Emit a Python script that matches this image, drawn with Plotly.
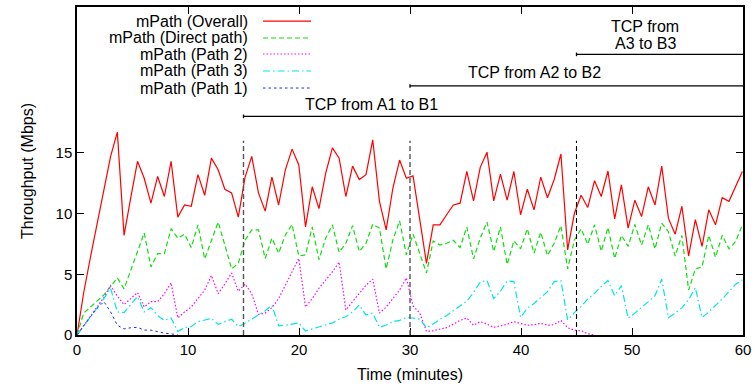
import plotly.graph_objects as go

# ---------------- data ----------------
time_min = [0.0, 0.606, 1.211, 1.817, 2.422, 3.028, 3.633, 4.239, 4.844, 5.450,
            6.055, 6.661, 7.266, 7.872, 8.477, 9.083, 9.688, 10.294, 10.899, 11.505,
            12.110, 12.716, 13.321, 13.927, 14.532, 15.138, 15.743, 16.349, 16.954, 17.560,
            18.165, 18.771, 19.376, 19.982, 20.587, 21.193, 21.798, 22.404, 23.009, 23.615,
            24.220, 24.826, 25.431, 26.037, 26.642, 27.248, 27.853, 28.459, 29.064, 29.670,
            30.275, 30.881, 31.486, 32.092, 32.697, 33.303, 33.908, 34.514, 35.119, 35.725,
            36.330, 36.936, 37.541, 38.147, 38.752, 39.358, 39.963, 40.569, 41.174, 41.780,
            42.385, 42.991, 43.596, 44.202, 44.807, 45.413, 46.018, 46.624, 47.229, 47.835,
            48.440, 49.046, 49.651, 50.257, 50.862, 51.468, 52.073, 52.679, 53.284, 53.890,
            54.495, 55.101, 55.706, 56.312, 56.917, 57.523, 58.128, 58.734, 59.339, 59.945]

overall = [0, 3.5, 6.4, 9.2, 12.0, 14.7, 16.7, 8.2, 11.3, 14.3,
           12.9, 10.85, 13.05, 11.4, 14.3, 9.7, 10.7, 10.6, 13.2, 11.5,
           14.56, 13.6, 12.0, 11.7, 9.7, 12.97, 14.7, 11.7, 10.2, 13.0,
           10.7, 13.6, 15.3, 14.0, 8.9, 12.2, 10.4, 13.3, 15.4, 14.56,
           11.4, 13.9, 12.8, 13.2, 16.07, 11.0, 8.65, 12.1, 14.4, 12.9,
           13.1, 9.5, 5.9, 9.07, 9.07, 9.9, 10.7, 10.85, 13.46, 11.04,
           13.8, 15.05, 11.04, 13.24, 11.1, 13.46, 9.9, 12.0, 10.3, 13.0,
           11.3, 12.8, 14.9, 7.0, 10.0, 11.5, 10.5, 12.7, 11.4, 13.5,
           9.56, 12.36, 8.8, 11.1, 9.75, 12.2, 10.7, 13.9, 9.6, 8.3,
           10.6, 6.5, 9.5, 7.3, 10.3, 9.07, 11.3, 11.0, 12.2, 13.46]

direct = [0, 1.8, 2.3, 2.8, 3.3, 4.0, 4.7, 3.8, 5.3, 6.8,
          8.4, 5.6, 6.7, 6.7, 8.75, 7.97, 8.3, 7.2, 9.07, 6.26,
          7.8, 9.3, 7.4, 5.44, 5.9, 7.8, 8.65, 8.65, 6.3, 7.97,
          6.73, 8.24, 9.1, 6.5, 6.6, 8.9, 6.2, 7.97, 9.07, 6.8,
          7.55, 9.0, 6.87, 7.55, 9.12, 8.8, 5.44, 7.83, 9.4, 6.6,
          8.3, 6.7, 5.1, 7.75, 7.4, 7.55, 7.8, 7.2, 8.9, 6.26,
          7.97, 9.3, 6.87, 8.9, 5.8, 7.75, 7.1, 8.74, 6.73, 8.46,
          6.54, 7.55, 9.0, 5.44, 7.8, 8.74, 7.47, 9.07, 6.9, 8.84,
          6.3, 8.2, 7.3, 9.1, 7.4, 9.07, 7.1, 9.2, 8.5, 6.5,
          8.2, 3.7, 5.44, 5.6, 8.2, 6.4, 8.2, 7.1, 7.7, 9.07]

path2 = [0, 0.8, 1.6, 2.4, 3.1, 4.07, 3.2, 2.5, 3.0, 3.5,
         2.3, 2.75, 2.75, 3.4, 4.3, 1.4, 1.9, 2.3, 3.0, 3.7,
         4.9, 3.4, 4.2, 5.1, 3.6, 4.2, 3.4, 1.7, 1.8, 2.25,
         3.0, 4.1, 5.2, 6.3, 2.3, 3.0, 3.85, 4.5, 5.2, 6.0,
         2.06, 2.75, 3.43, 4.1, 4.6, 1.8, 2.3, 3.0, 3.7, 4.7,
         2.4, 1.8, 0.3, 0.35, 0.5, 0.6, 0.9, 1.2, 1.4, 0.8,
         1.1, 0.9, 0.63, 0.75, 0.88, 1.1, 0.96, 0.8, 0.85, 0.96,
         0.8, 0.85, 1.2, 0.6, 0.4, 0.35, 0.1, 0.0]

path3 = [0, 0.75, 1.5, 2.3, 3.0, 3.85, 1.9, 1.85, 2.5, 3.16,
         1.9, 2.25, 1.6, 1.2, 1.4, 0.3, 0.6, 0.7, 1.1, 1.25,
         1.37, 0.88, 1.1, 1.3, 0.69, 0.96, 1.3, 1.65, 2.0, 2.45,
         0.75, 0.8, 0.9, 1.0, 0.33, 0.5, 0.7, 0.85, 1.0, 1.3,
         1.5, 1.9, 2.47, 1.65, 1.8, 0.63, 0.82, 1.1, 1.2, 1.43,
         1.4, 1.3, 0.6, 0.9, 1.3, 1.6, 2.0, 2.4, 2.8, 3.5,
         4.35, 4.5, 3.0, 3.6, 4.45, 4.4, 1.45, 2.2, 2.6, 3.08,
         3.57, 4.4, 4.48, 1.24, 1.84, 2.34, 2.97, 3.43, 4.0, 4.48,
         3.24, 4.07, 1.37, 1.8, 2.25, 2.75, 3.24, 4.6, 1.43, 1.8,
         2.25, 2.9, 3.9, 1.43, 1.9, 2.4, 2.97, 3.57, 4.18, 4.53]

path1 = [0, 0.8, 1.5, 2.2, 2.75, 1.9, 0.8, 0.5, 0.6, 0.63,
         0.4, 0.4, 0.27, 0.15, 0.1, 0.0]

series_names = ["mPath (Overall)", "mPath (Direct path)", "mPath (Path 2)",
                "mPath (Path 3)", "mPath (Path 1)"]
series_values = [overall, direct, path2, path3, path1]

# TCP flow start times (minutes) and labels
tcp_start = [15, 30, 45]
tcp_level = [18.0, 20.5, 23.1]
tcp_labels = [["TCP from A1 to B1"], ["TCP from A2 to B2"], ["TCP from", "A3 to B3"]]
tcp_label_x = [26.5, 41.2, 51.2]
tcp_label_y = [[18.95], [21.6], [25.4, 24.0]]
marker_top = 16.0

x_ticks = [0, 10, 20, 30, 40, 50, 60]
y_ticks = [0, 5, 10, 15]

# ---------------- styling ----------------
colors = ["#ff0000", "#11dd11", "#ff00ff", "#00e5e5", "#2222ff"]
dashes = ["solid", "5px,3px", "1.5px,2px", "7px,3px,1.5px,3px", "2.5px,3px"]
widths = [1.2, 1.2, 1.2, 1.2, 1.0]
FONT = "Liberation Sans, Arial, Helvetica, sans-serif"

fig = go.Figure()
for name, vals, c, d, w in zip(series_names, series_values, colors, dashes, widths):
    fig.add_trace(go.Scatter(x=time_min[:len(vals)], y=vals, mode="lines", name=name,
                             line=dict(color=c, width=w, dash=d), showlegend=False))

shapes = []
annotations = []
vcolors = ["#555555", "#555555", "#000000"]
vwidths = [1.4, 1.4, 1.1]
for i, xs in enumerate(tcp_start):
    shapes.append(dict(type="line", xref="x", yref="y", x0=xs, x1=xs, y0=0, y1=marker_top,
                       line=dict(color=vcolors[i], width=vwidths[i], dash="5px,3px")))
    shapes.append(dict(type="line", xref="x", yref="y", x0=xs, x1=60, y0=tcp_level[i], y1=tcp_level[i],
                       line=dict(color="black", width=1.3)))
    shapes.append(dict(type="line", xref="x", yref="y", x0=xs, x1=xs,
                       y0=tcp_level[i] - 0.15, y1=tcp_level[i] + 0.15,
                       line=dict(color="black", width=1.3)))
    for txt, ty in zip(tcp_labels[i], tcp_label_y[i]):
        annotations.append(dict(x=tcp_label_x[i], y=ty, xref="x", yref="y", text=txt,
                                showarrow=False, xanchor="center", yanchor="middle",
                                font=dict(family=FONT, size=16, color="black")))

# custom legend (text right-aligned, sample to the right), in paper coords
leg_y = [0.957, 0.9055, 0.8567, 0.8049, 0.753]
for name, c, d, w, ly in zip(series_names, colors, dashes, widths, leg_y):
    annotations.append(dict(x=0.2598, y=ly, xref="paper", yref="paper", text=name,
                            showarrow=False, xanchor="right", yanchor="middle",
                            font=dict(family=FONT, size=16, color="black")))
    shapes.append(dict(type="line", xref="paper", yref="paper", x0=0.2793, x1=0.3514,
                       y0=ly, y1=ly, line=dict(color=c, width=w, dash=d)))

axis_common = dict(showline=True, linecolor="black", linewidth=1.5, mirror="ticks",
                   ticks="inside", ticklen=7, tickcolor="black", tickwidth=1.3,
                   showgrid=False, zeroline=False, automargin=False,
                   tickfont=dict(family=FONT, size=15, color="black"))

fig.update_layout(
    width=755, height=389,
    margin=dict(l=77, r=12, t=7, b=54),
    paper_bgcolor="white", plot_bgcolor="white",
    shapes=shapes, annotations=annotations,
    xaxis=dict(range=[0, 60], tickvals=x_ticks,
               title=dict(text="Time (minutes)", font=dict(family=FONT, size=16, color="black"),
                          standoff=12),
               **axis_common),
    yaxis=dict(range=[0, 27], tickvals=y_ticks,
               title=dict(text="Throughput (Mbps)", font=dict(family=FONT, size=16, color="black"),
                          standoff=18),
               **axis_common),
)

assert len(time_min) == 100 and len(overall) == 100 and len(direct) == 100 and len(path3) == 100

fig.write_html("out.html")
